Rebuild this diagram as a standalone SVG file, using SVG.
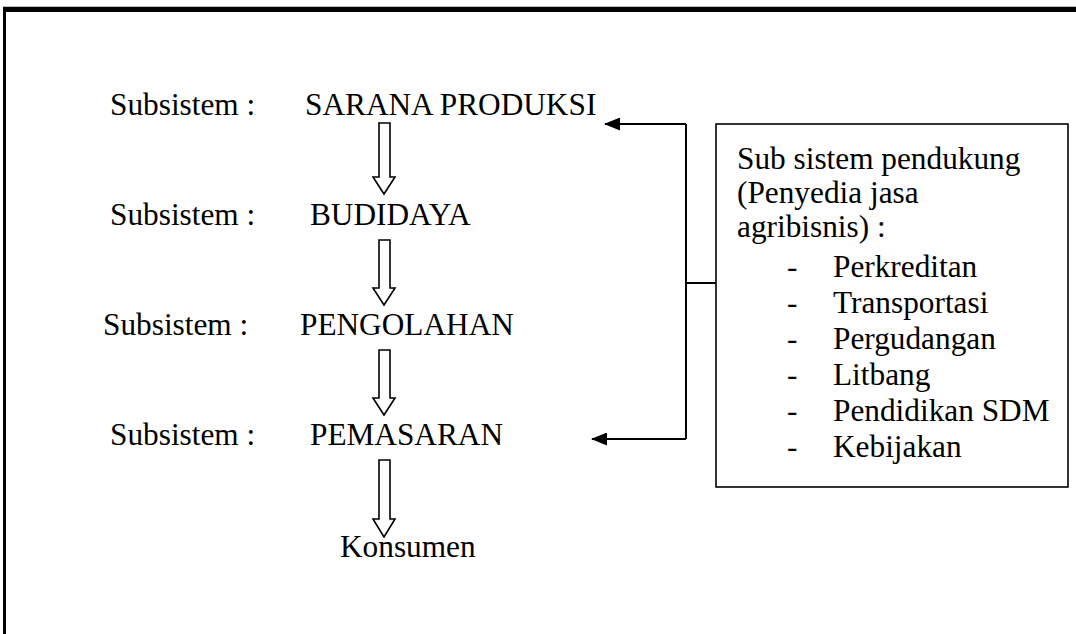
<svg xmlns="http://www.w3.org/2000/svg" width="1076" height="634" viewBox="0 0 1076 634">
  <style>
    .t { font-family: 'Liberation Serif', 'Times New Roman', 'DejaVu Serif', serif; font-size: 31.3px; fill: #000; }
    .block { fill: #fff; stroke: #000; stroke-width: 1.6; stroke-linejoin: miter; }
    .conn { fill: none; stroke: #000; stroke-width: 2; }
    .box { fill: #fff; stroke: #000; stroke-width: 1.6; }
  </style>
  <defs>
    <!-- filled triangular head, drawn pointing along the path direction -->
    <marker id="head" viewBox="0 0 16 13" refX="15" refY="6.5" markerWidth="16" markerHeight="13" markerUnits="userSpaceOnUse" orient="auto">
      <path d="M0,0 L16,6.5 L0,13 Z" fill="#000"/>
    </marker>
  </defs>

  <rect width="1076" height="634" fill="#fff"/>

  <!-- page frame -->
  <g id="frame">
    <rect x="3" y="6" width="1073" height="1" fill="#bdbdbd"/>
    <rect x="3" y="7" width="1073" height="5" fill="#000"/>
    <rect x="3" y="7" width="3" height="627" fill="#000"/>
  </g>

  <g class="t" font-family="Liberation Serif, Times New Roman, serif">
    <!-- subsystem chain -->
    <g id="sarana">
      <text x="110" y="115">Subsistem :</text>
      <text x="305" y="115">SARANA PRODUKSI</text>
    </g>
    <g id="budidaya">
      <text x="110" y="225">Subsistem :</text>
      <text x="310" y="225">BUDIDAYA</text>
    </g>
    <g id="pengolahan">
      <text x="103" y="335">Subsistem :</text>
      <text x="300" y="335">PENGOLAHAN</text>
    </g>
    <g id="pemasaran">
      <text x="110" y="445">Subsistem :</text>
      <text x="310" y="445">PEMASARAN</text>
    </g>
    <g id="konsumen">
      <text x="340" y="557">Konsumen</text>
    </g>

    <!-- supporting subsystem box -->
    <g id="pendukung">
      <rect class="box" x="716" y="124" width="352" height="363"/>
      <text x="737" y="169">Sub sistem pendukung</text>
      <text x="737" y="203">(Penyedia jasa</text>
      <text x="737" y="237">agribisnis) :</text>
      <text x="787" y="277">-</text><text x="833" y="277">Perkreditan</text>
      <text x="787" y="313">-</text><text x="833" y="313">Transportasi</text>
      <text x="787" y="349">-</text><text x="833" y="349">Pergudangan</text>
      <text x="787" y="385">-</text><text x="833" y="385">Litbang</text>
      <text x="787" y="421">-</text><text x="833" y="421">Pendidikan SDM</text>
      <text x="787" y="457">-</text><text x="833" y="457">Kebijakan</text>
    </g>
  </g>

  <!-- connectors -->
  <g id="connectors">
    <polygon class="block" points="379,123 390,123 390,177 395,177 384,194 373,177 379,177"/>
    <polygon class="block" points="379,240 390,240 390,288 395,288 384,305 373,288 379,288"/>
    <polygon class="block" points="379,350 390,350 390,398 395,398 384,415 373,398 379,398"/>
    <polygon class="block" points="379,460 390,460 390,519 395,519 384,537 373,519 379,519"/>
    <path class="conn" d="M686,124 V439"/>
    <path class="conn" d="M686,283 H716"/>
    <path class="conn" d="M686,124 H605" marker-end="url(#head)"/>
    <path class="conn" d="M686,439 H592" marker-end="url(#head)"/>
  </g>
</svg>
